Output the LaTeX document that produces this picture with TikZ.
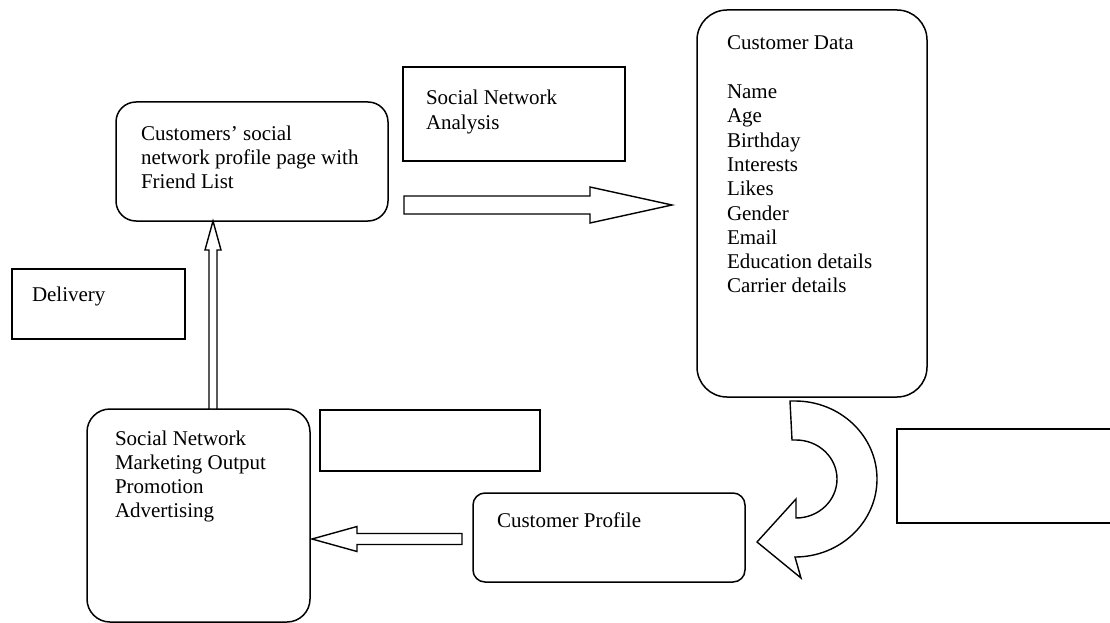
\documentclass[tikz,border=0pt]{standalone}
\usepackage{fontspec}
\setmainfont{Liberation Serif}
\usetikzlibrary{calc}

\tikzset{
  roundbox/.style={draw, line width=1.5pt, rounded corners=#1, anchor=north west,
                   inner sep=0pt, outer sep=0pt},
  roundbox/.default=20pt,
  plainbox/.style={draw, line width=1.8pt, anchor=north west, inner sep=0pt, outer sep=0pt},
  label/.style={anchor=base west, inner sep=0pt, outer sep=0pt,
                font=\fontsize{21}{24.3}\selectfont},
  blockarrow/.style={draw, line width=1.4pt, fill=white, line join=miter},
}

\newcommand{\lines}[1]{\begin{tabular}[t]{@{}l@{}}#1\end{tabular}}

\begin{document}
\begin{tikzpicture}[x=1pt, y=-1pt]
\useasboundingbox (0,0) rectangle (1110,623);

% boxes
\node[roundbox=20pt, minimum width=272pt, minimum height=119pt] (page) at (116,102) {};
\node[plainbox, minimum width=222pt, minimum height=94pt] (sna) at (403,67) {};
\node[roundbox=30pt, minimum width=230pt, minimum height=387pt] (data) at (697,10) {};
\node[plainbox, minimum width=173pt, minimum height=70pt] (delivery) at (12,269) {};
\node[roundbox=23pt, minimum width=223pt, minimum height=213pt] (market) at (87,409) {};
\node[plainbox, minimum width=220pt, minimum height=61pt] (blankmid) at (320,410) {};
\node[roundbox=12pt, minimum width=272pt, minimum height=89pt] (profile) at (473,493) {};
\node[plainbox, minimum width=230pt, minimum height=94pt] (blankright) at (897,429) {};

% texts
\node[label] (pagetext) at (141,140) {\lines{Customers’ social\\network profile page with\\Friend List}};
\node[label] (snatext) at (426,105) {\lines{Social Network\\Analysis}};
\node[label] (datatext) at (727,50) {\lines{Customer Data\\ \\Name\\Age\\Birthday\\Interests\\Likes\\Gender\\Email\\Education details\\Carrier details}};
\node[label] (deliverytext) at (32,301) {Delivery};
\node[label] (markettext) at (115,445) {\lines{Social Network\\Marketing Output\\Promotion\\Advertising}};
\node[label] (profiletext) at (497,527) {Customer Profile};

% hollow arrow: marketing output up to the profile page
\coordinate (upfoot) at (market.north -| 213,0);
\coordinate (uptip) at (page.south -| 213,0);
\draw[blockarrow]
  ($(upfoot)+(-4,0)$) -- ($(uptip)+(-4,29)$) -- ($(uptip)+(-8,29)$) -- (uptip)
  -- ($(uptip)+(8,29)$) -- ($(uptip)+(4,29)$) -- ($(upfoot)+(4,0)$) -- cycle;

% hollow arrow: profile page to customer data
\coordinate (rfoot) at (404,205);
\coordinate (rtip) at (672,205);
\draw[blockarrow]
  ($(rfoot)+(0,-9)$) -- ($(rtip)+(-82,-9)$) -- ($(rtip)+(-82,-18)$) -- (rtip)
  -- ($(rtip)+(-82,18)$) -- ($(rtip)+(-82,9)$) -- ($(rfoot)+(0,9)$) -- cycle;

% hollow arrow: customer profile to marketing output
\coordinate (lfoot) at (462,539);
\coordinate (ltip) at (312,539);
\draw[blockarrow]
  ($(lfoot)+(0,-5.5)$) -- ($(ltip)+(45,-5.5)$) -- ($(ltip)+(45,-12.5)$) -- (ltip)
  -- ($(ltip)+(45,12.5)$) -- ($(ltip)+(45,5.5)$) -- ($(lfoot)+(0,5.5)$) -- cycle;

% curved hollow arrow: customer data round to customer profile
\draw[blockarrow]
  (790,401) -- (795,401) arc[start angle=-90, end angle=90, x radius=82, y radius=78]
  -- (801,578) -- (757,542) -- (796,499) -- (796,518)
  arc[start angle=90, end angle=-90, x radius=41, y radius=39]
  -- (792,440) -- cycle;
\end{tikzpicture}
\end{document}
